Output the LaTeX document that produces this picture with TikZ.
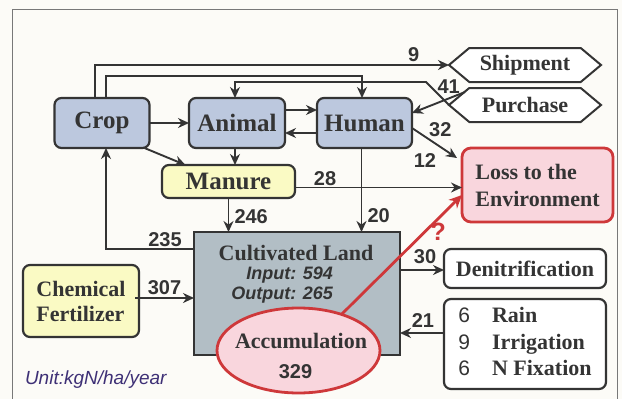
\documentclass[tikz,border=0pt]{standalone}
\usepackage{fontspec}
\setmainfont{Liberation Serif}
\setsansfont{Liberation Sans}
\usetikzlibrary{arrows.meta,positioning,shapes.geometric,shapes.symbols}
\definecolor{edgegray}{RGB}{52,52,52}
\definecolor{framegray}{RGB}{120,120,120}
\definecolor{paper}{RGB}{252,251,247}
\definecolor{poolblue}{RGB}{188,200,222}
\definecolor{manureyellow}{RGB}{250,250,196}
\definecolor{landgray}{RGB}{178,190,197}
\definecolor{losspink}{RGB}{249,214,221}
\definecolor{lossred}{RGB}{206,56,58}
\definecolor{unitpurple}{RGB}{62,48,118}
\newcommand{\bigserif}{\fontsize{25}{28}\selectfont\bfseries}
\newcommand{\midserif}{\fontsize{22}{26}\selectfont\bfseries}
\newcommand{\numsans}{\sffamily\bfseries\fontsize{20}{22}\selectfont}
\begin{document}
\begin{tikzpicture}[x=1pt,y=-1pt,
  every node/.style={inner sep=0pt,outer sep=0pt,text=edgegray},
  flow/.style={draw=edgegray,line width=1.9pt,-{Stealth[length=11pt,width=10pt]}},
  redflow/.style={draw=lossred,line width=2.8pt,-{Stealth[length=13pt,width=12pt]}},
  num/.style={font=\numsans},
  pool/.style={draw=edgegray,line width=2.2pt,rounded corners=7pt,fill=poolblue,font=\bigserif,minimum height=50pt},
  yellowbox/.style={draw=edgegray,line width=2.2pt,rounded corners=7pt,fill=manureyellow},
  plainbox/.style={draw=edgegray,line width=2.2pt,rounded corners=7pt,fill=white,font=\midserif},
  hexbox/.style={shape=signal,signal to=west and east,signal pointer angle=80,draw=edgegray,line width=2pt,fill=white,minimum width=152pt,minimum height=34pt,font=\midserif},
  lossbox/.style={draw=lossred,line width=2.8pt,rounded corners=9pt,fill=losspink,minimum width=151pt,minimum height=74pt,align=left,font=\fontsize{22}{27}\selectfont\bfseries},
  landbox/.style={draw=edgegray,line width=2.2pt,fill=landgray,minimum width=206pt,minimum height=123pt},
  accumbox/.style={ellipse,draw=lossred,line width=2.8pt,fill=losspink,minimum width=163pt,minimum height=85pt},
  landnum/.style={font=\sffamily\bfseries\itshape\fontsize{18}{20}\selectfont}]
\useasboundingbox (0,0) rectangle (622,399);
\fill[paper] (0,0) rectangle (622,399);
\draw[framegray,line width=1pt] (12,9) rectangle (617,420);
% pools
\node[pool,minimum width=95pt] (crop) at (102,123) {Crop};
\node[pool,minimum width=96pt] (animal) at (237,123) {Animal};
\node[pool,minimum width=95pt] (human) at (364.5,123) {Human};
\node[yellowbox,minimum width=133pt,minimum height=33pt,font=\bigserif] (manure) at (228.5,181.5) {Manure};
\node[hexbox] (ship) at (525,65) {Shipment};
\node[hexbox] (purch) at (525,105) {Purchase};
\node[lossbox] (loss) at (537.5,185) {Loss to the\\Environment};
\node[landbox] (land) at (297,293.5) {};
\node[font=\midserif] (landname) at (296,253) {Cultivated Land};
\node[landnum,anchor=east] (landin) at (333,275) {Input: 594};
\node[landnum,anchor=east] (landout) at (333,295) {Output: 265};
\node[yellowbox,minimum width=116pt,minimum height=72pt,align=left,font=\fontsize{22}{25}\selectfont\bfseries] (fert) at (81,301) {Chemical\\Fertilizer};
\node[accumbox] (accum) at (298.5,350.5) {};
\node[font=\midserif] (accumname) at (301,341) {Accumulation};
\node[num] (accumnum) at (295.5,372) {329};
\node[plainbox,minimum width=162pt,minimum height=39pt] (denit) at (525,268.5) {Denitrification};
\node[plainbox,minimum width=162pt,minimum height=90pt,font=\fontsize{22}{26.5}\selectfont\bfseries] (rain) at (525,344) {%
  \begin{tabular}{@{}l@{\hspace{22pt}}l@{}}
  {\sffamily\mdseries\fontsize{21}{22}\selectfont 6} & Rain\\
  {\sffamily\mdseries\fontsize{21}{22}\selectfont 9} & Irrigation\\
  {\sffamily\mdseries\fontsize{21}{22}\selectfont 6} & N Fixation
  \end{tabular}};
\node[anchor=west,font=\sffamily\itshape\fontsize{19}{20}\selectfont,text=unitpurple] (unit) at (25,380) {Unit:kgN/ha/year};
% flows
\draw[flow] ([xshift=-7pt]crop.north) |- node[pos=0.95,above=3pt,num]{9} (ship.west);
\draw[flow] ([xshift=4pt]crop.north) -- ++(0,22pt) -| ([xshift=-2.5pt]human.north);
\draw[flow] (purch.west) -- node[above right=0pt,num]{41} ++(-23pt,23pt) -| ([xshift=-2pt]animal.north);
\draw[flow] ([xshift=16pt,yshift=13pt]purch.west) -- ([yshift=10pt]human.east);
\draw[flow] ([yshift=-5pt]human.east) -- node[pos=0.35,above right=2pt,num]{32} node[pos=0.6,below left=8pt and 3pt,num]{12} ([xshift=-5pt,yshift=-10pt]loss.north west);
\draw[flow] (crop) -- (animal);
\draw[flow] ([yshift=13pt]animal.east) -- ([yshift=13pt]human.west);
\draw[flow] ([yshift=-10pt]human.west) -- ([yshift=-10pt]animal.east);
\draw[flow] ([xshift=-2pt]animal.south) -- ([xshift=-2pt]animal.south |- manure.north);
\draw[flow] ([xshift=-5pt]crop.south east) -- ([xshift=-43pt]manure.north);
\draw[flow] ([yshift=-6pt]manure.east) -- node[pos=0.18,above=2pt,num]{28} ([yshift=-6pt]manure.east -| loss.west);
\draw[flow] (manure.south) -- node[pos=0.55,right=6pt,num]{246} (manure.south |- land.north);
\draw[flow] ([xshift=-3pt]human.south) -- node[pos=0.8,right=6pt,num]{20} ([xshift=-3pt]human.south |- land.north);
\draw[flow] ([yshift=44.5pt]land.west) -| node[pos=0.165,above=2pt,num]{235} ([xshift=4pt]crop.south);
\draw[flow] ([xshift=-4pt,yshift=3pt]fert.east) -- node[pos=0.5,above=3pt,num]{307} ([yshift=3pt]fert.east -| land.west);
\draw[flow] ([yshift=23.5pt]land.east) -- node[pos=0.57,above=6pt,num]{30} ([yshift=23.5pt]land.east -| denit.west);
\draw[flow] ([yshift=11pt]rain.west) -- node[pos=0.48,above=6pt,num]{21} ([yshift=11pt]rain.west -| land.east);
\draw[redflow] (accum.40) -- node[pos=0.69,right=6pt,text=lossred,font=\sffamily\bfseries\fontsize{25}{26}\selectfont]{?} ([yshift=-10pt]loss.west);
\end{tikzpicture}
\end{document}
